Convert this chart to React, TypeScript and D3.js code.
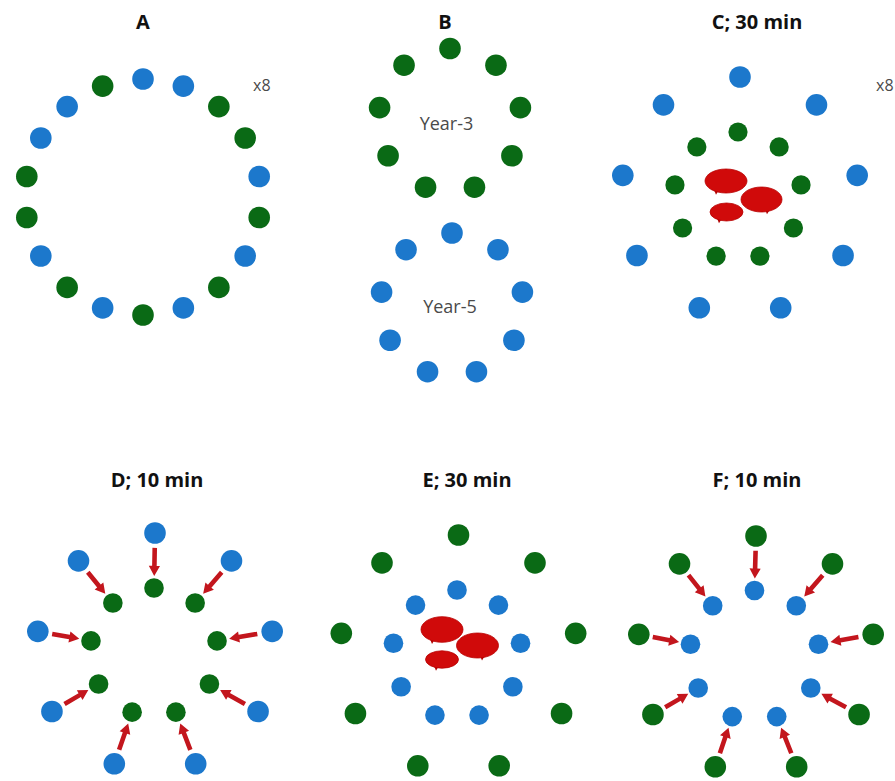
import React from 'react';
import * as d3 from 'd3';

const BLUE = '#1c78cc';
const GREEN = '#0a6a15';
const RED = '#d00a0a';
const ARROW = '#c3161d';

// Panel titles
const panelTitles = ['A', 'B', 'C; 30 min', 'D; 10 min', 'E; 30 min', 'F; 10 min'];
const titleXs = [143, 445, 757, 157, 467, 757];
const titleYs = [29, 29, 29, 487, 487, 487];

// Ring colour sequences (clockwise from top)
const ringAColors = ['B', 'B', 'G', 'G', 'B', 'G', 'B', 'G', 'B', 'G', 'B', 'G', 'B', 'G', 'G', 'B', 'B', 'G'];
const nineGreen = ['G', 'G', 'G', 'G', 'G', 'G', 'G', 'G', 'G'];
const nineBlue = ['B', 'B', 'B', 'B', 'B', 'B', 'B', 'B', 'B'];

// Ring layouts
const ringCentersX = [143, 450, 452, 740, 738, 155, 154, 458.5, 457, 756, 754.5];
const ringCentersY = [197, 120, 304.5, 196, 196, 652, 652, 654, 654.5, 655, 655.5];
const ringRadii = [118, 71.5, 71.5, 119, 64, 119, 64, 119, 64.5, 119, 65];
const ringDotR = [10.8, 10.8, 10.8, 10.8, 9.6, 10.8, 9.8, 10.8, 9.8, 10.8, 9.8];
const ringColorSets = [ringAColors, nineGreen, nineBlue, nineBlue, nineGreen, nineBlue, nineGreen, nineGreen, nineBlue, nineGreen, nineBlue];

// Arrow pairs: [outer ring index, inner ring index]
const arrowPairs = [[5, 6], [9, 10]];
const arrowT = [0.27, 0.78];

// Red clusters (C and E)
const blobX = [726, 761.5, 726.5, 442, 477.5, 442];
const blobY = [181, 199.5, 212, 629.5, 645.5, 659.5];
const blobRx = [21, 20.5, 16.5, 21, 21, 16.5];
const blobRy = [12, 12.5, 9, 12.8, 12.5, 8.7];
const blobTail = [-9, 6.5, -6.5, -9, 5.5, -5];

// Labels
const labelTexts = ['x8', 'x8', 'Year-3', 'Year-5'];
const labelXs = [253, 876, 446.5, 450];
const labelYs = [91, 91, 130, 313];
const labelSizes = [16, 16, 18, 18];

function ringPoints(i: number) {
  const colors = ringColorSets[i];
  const n = colors.length;
  const ang = d3.scaleLinear().domain([0, n]).range([0, 2 * Math.PI]);
  return colors.map((c, k) => ({
    x: ringCentersX[i] + ringRadii[i] * Math.sin(ang(k)),
    y: ringCentersY[i] - ringRadii[i] * Math.cos(ang(k)),
    c,
  }));
}

function arrowPath(x0: number, y0: number, x1: number, y1: number) {
  const dx = x1 - x0, dy = y1 - y0;
  const L = Math.hypot(dx, dy);
  const ux = dx / L, uy = dy / L;
  const nx = -uy, ny = ux;
  const hw = 2.3, hh = 5.6, hl = 10;
  const hx = x1 - ux * hl, hy = y1 - uy * hl;
  const pts: [number, number][] = [
    [x0 + nx * hw, y0 + ny * hw],
    [hx + nx * hw, hy + ny * hw],
    [hx + nx * hh, hy + ny * hh],
    [x1, y1],
    [hx - nx * hh, hy - ny * hh],
    [hx - nx * hw, hy - ny * hw],
    [x0 - nx * hw, y0 - ny * hw],
  ];
  return d3.line()(pts) + 'Z';
}

export default function App() {
  const rings = ringColorSets.map((_, i) => ringPoints(i));
  const lerp = d3.interpolateNumber;
  return (
    <svg width={895} height={781} style={{ position: 'absolute', left: 0, top: 0, background: '#fff' }}
      fontFamily="'Open Sans', 'DejaVu Sans', sans-serif">
      <rect width={895} height={781} fill="#fff" />
      {panelTitles.map((t, i) => (
        <text key={t} x={titleXs[i]} y={titleYs[i]} textAnchor="middle" fontWeight="bold" fontSize={20} fill="#111">{t}</text>
      ))}
      {labelTexts.map((t, i) => (
        <text key={i} x={labelXs[i]} y={labelYs[i]} textAnchor={i < 2 ? 'start' : 'middle'}
          fontSize={labelSizes[i]} fill="#4a4a4a">{t}</text>
      ))}
      {rings.map((pts, i) => (
        <g key={i}>
          {pts.map((p, k) => (
            <circle key={k} cx={p.x} cy={p.y} r={ringDotR[i]} fill={p.c === 'B' ? BLUE : GREEN} />
          ))}
        </g>
      ))}
      {arrowPairs.map(([o, inn], j) => (
        <g key={j}>
          {rings[o].map((p, k) => {
            const q = rings[inn][k];
            const x0 = lerp(p.x, q.x)(arrowT[0]), y0 = lerp(p.y, q.y)(arrowT[0]);
            const x1 = lerp(p.x, q.x)(arrowT[1]), y1 = lerp(p.y, q.y)(arrowT[1]);
            return <path key={k} d={arrowPath(x0, y0, x1, y1)} fill={ARROW} />;
          })}
        </g>
      ))}
      {blobX.map((x, i) => {
        const tx = x + blobTail[i];
        const ey = blobY[i] + blobRy[i] * Math.sqrt(Math.max(0, 1 - (blobTail[i] / blobRx[i]) ** 2));
        const tail = d3.line()([[tx - 3, ey - 2], [tx + 2, ey - 2], [tx - 1, ey + 3]]) + 'Z';
        return (
          <g key={i}>
            <path d={tail} fill="#b00000" />
            <ellipse cx={x} cy={blobY[i]} rx={blobRx[i]} ry={blobRy[i]} fill={RED} stroke="#b80000" strokeWidth={0.8} />
          </g>
        );
      })}
    </svg>
  );
}
